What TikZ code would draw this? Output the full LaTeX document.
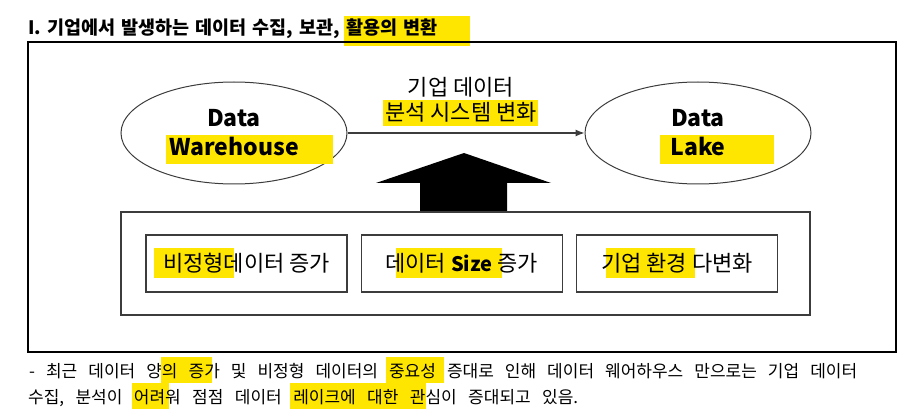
\documentclass[tikz,border=0pt]{standalone}
\usepackage{fontspec}
\setmainfont{Noto Sans CJK KR}
\usetikzlibrary{shapes.geometric,positioning,arrows.meta}
\definecolor{marker}{RGB}{255,230,0}
\definecolor{edge}{RGB}{60,60,60}
\newcommand\boxfont{\fontsize{22}{25}\selectfont}
\newcommand\notefont{\fontsize{17}{20}\selectfont}
% marker stroke behind a piece of text: [left pad][right pad]{text}
\newlength\hlw
\newlength\gapw
\newsavebox\hlbox
\newsavebox\linebox
\def\hlup{1.0em}\def\hldn{0.3em}
\NewDocumentCommand\hlt{O{1.5pt}O{1.5pt}m}{%
  \sbox\hlbox{#3}\setlength\hlw{\dimexpr\wd\hlbox+#1+#2\relax}%
  \makebox[0pt][l]{\hspace*{-#1}\smash{\textcolor{marker}{\rule[-\hldn]{\hlw}{\dimexpr\hlup+\hldn\relax}}}}#3}
% one line spread to a width: {width}{gaps}{text}
\newcommand\spreadline[3]{%
  \begingroup\spaceskip=1sp\relax\xspaceskip=1sp\relax
  \sbox\linebox{#3}\global\gapw=\dimexpr(#1-\wd\linebox)/#2\relax\endgroup
  \begingroup\spaceskip=\gapw\relax\xspaceskip=\gapw\relax#3\endgroup}

\begin{document}
\begin{tikzpicture}[x=1pt, y=-1pt,
    store/.style={ellipse, draw=edge, line width=1pt, minimum width=226pt, minimum height=102pt,
        inner sep=0pt, align=center, font=\fontsize{23}{29}\selectfont\bfseries\def\hlup{0.9em}\def\hldn{0.35em}},
    factor/.style={draw=edge, line width=1.3pt, minimum width=201pt, minimum height=57pt,
        font=\boxfont\def\hlup{1.1em}\def\hldn{0.3em}},
    note/.style={anchor=base west, inner sep=0pt, font=\notefont\def\hlup{1.2em}\def\hldn{0.35em}}]
    \useasboundingbox (0,0) rectangle (916,417);
    % title
    \node[anchor=base west, inner sep=0pt, font=\fontsize{18.5}{20}\selectfont\bfseries\def\hlup{1.03em}\def\hldn{0.6em}] (title) at (28,35)
        {\spreadline{409pt}{7}{I. 기업에서 발생하는 데이터 수집, 보관, \hlt[2pt][33pt]{활용의 변환}}};
    \draw[line width=1.5pt] (28,42) rectangle (896,352);
    % stores
    \node[store] (dw) at (234,133) {Data\\\hlt[3pt][34pt]{Warehouse}};
    \node[store] (dl) at (698,133) {Data\\\hlt[10pt][48pt]{Lake}};
    \draw[edge, line width=1.2pt, -{Latex[length=9pt,width=7pt]}] (dw) -- (dl);
    \node[align=center, font=\boxfont\def\hlup{0.92em}\def\hldn{0.25em}] (shift) at (461,100)
        {기업 데이터\\\hlt[2pt][1pt]{분석 시스템 변화}};
    % push arrow
    \fill (464,153) -- (551,183) -- (507,183) -- (507,212) -- (420,212) -- (420,183) -- (376,183) -- cycle;
    % drivers
    \draw[edge, line width=1.5pt] (121,212) rectangle (810,315);
    \node[factor] (f1) at (246.5,263.5) {\hlt[9pt][10pt]{비정형}데이터 증가};
    \node[factor, right=13pt of f1] (f2) {\hlt[-10pt][9pt]{데이터 {\fontsize{20}{24}\selectfont\textbf{Size}}} 증가};
    \node[factor, right=13pt of f2] (f3) {\hlt[-5pt][8pt]{기업 환경} 다변화};
    % note
    \node[note] (n1) at (29,377)
        {\spreadline{828pt}{15}{- 최근 데이터 양\hlt[1pt][8pt]{의 증}가 및 비정형 데이터의 \hlt[3pt][8pt]{중요성} 증대로 인해 데이터 웨어하우스 만으로는 기업 데이터}};
    \node[note] (n2) at (28,403)
        {\spreadline{550pt}{9}{수집, 분석이 \hlt[2pt][4pt]{어려}워 점점 데이터 \hlt[3pt][0pt]{레이크에 대한 관}심이 증대되고 있음.}};
\end{tikzpicture}
\end{document}
